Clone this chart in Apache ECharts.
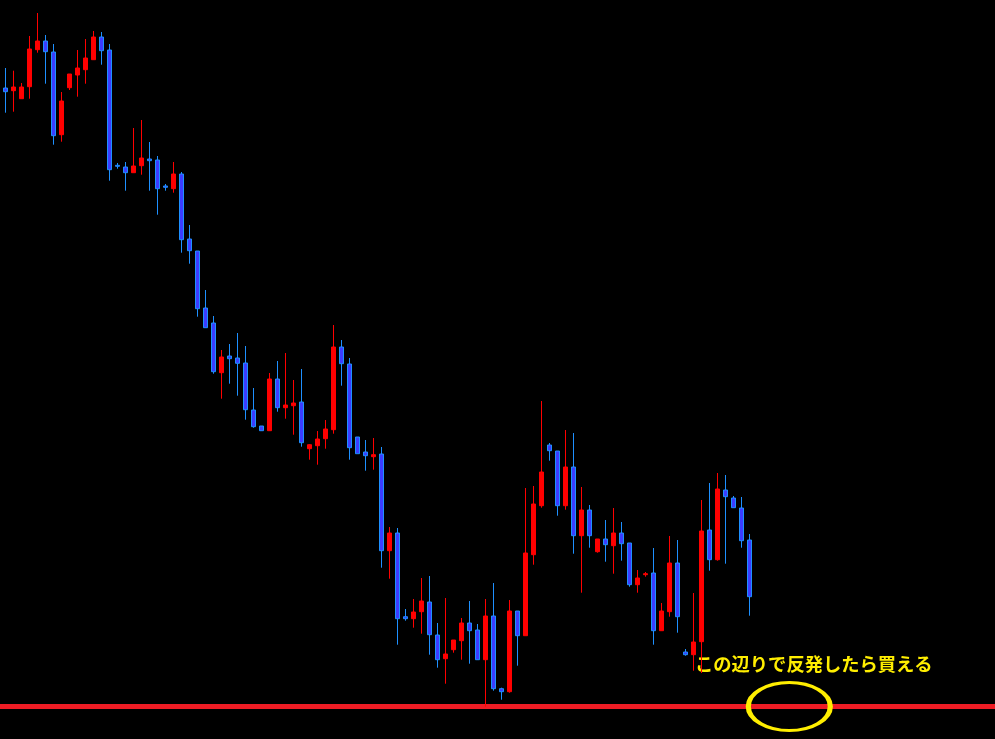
<!DOCTYPE html>
<html>
<head>
<meta charset="utf-8">
<script src="https://cdn.jsdelivr.net/npm/echarts@6/dist/echarts.min.js"></script>
<style>
html,body{margin:0;padding:0;background:#000;}
#chart{width:995px;height:739px;}
</style>
</head>
<body>
<div id="chart"></div>
<script>
// Candle data (price)
var opens = [116.120,116.093,116.013,116.133,116.503,116.590,116.480,115.653,116.123,116.250,
116.303,116.403,116.630,116.500,115.347,115.330,115.273,115.343,115.410,115.400,
115.140,115.113,115.260,114.610,114.490,113.920,113.770,113.273,113.440,113.420,
113.370,112.900,112.740,112.693,113.210,112.923,112.943,112.980,112.513,112.543,
112.613,112.703,113.530,113.360,112.630,112.480,112.433,112.460,111.493,111.670,
110.833,110.813,110.883,110.980,110.650,110.413,110.503,110.593,110.770,110.700,
110.403,110.840,110.113,110.083,110.890,110.643,111.453,111.943,112.550,112.490,
111.943,112.330,111.643,111.900,111.483,111.610,111.543,111.670,111.570,111.153,
111.253,111.270,110.693,110.883,111.370,110.480,110.453,110.583,111.700,111.403,
112.100,112.020,111.920,111.600];
var closes = [116.083,116.130,116.130,116.510,116.590,116.483,115.643,115.990,116.260,116.320,
116.420,116.630,116.493,115.303,115.337,115.273,115.340,115.420,115.393,115.113,
115.127,115.260,114.603,114.493,113.913,113.723,113.283,113.430,113.413,113.367,
112.903,112.733,112.693,113.210,112.923,112.950,112.970,112.573,112.553,112.610,
112.710,113.530,113.363,112.523,112.463,112.443,112.453,111.493,111.670,110.813,
110.813,110.880,110.990,110.653,110.403,110.460,110.600,110.770,110.693,110.403,
110.840,110.113,110.083,110.890,110.643,111.470,111.960,112.280,112.493,111.943,
112.330,111.643,111.900,111.643,111.610,111.553,111.670,111.563,111.153,111.220,
111.263,110.693,110.890,111.370,110.833,110.453,110.580,111.690,111.403,112.110,
112.033,111.923,111.593,111.033];
var lows = [115.873,115.883,116.013,116.013,116.473,116.163,115.553,115.583,116.100,116.033,
116.163,116.400,116.353,115.193,115.313,115.093,115.273,115.253,115.093,114.853,
115.093,115.073,114.473,114.363,113.833,113.723,113.263,113.013,113.163,113.043,
112.803,112.723,112.693,112.693,112.883,112.813,112.653,112.533,112.403,112.353,
112.513,112.663,113.143,112.403,112.463,112.293,112.303,111.323,111.213,110.553,
110.793,110.723,110.663,110.453,110.323,110.163,110.473,110.403,110.363,110.403,
109.933,110.093,110.003,110.073,110.343,110.643,111.353,111.923,112.393,111.843,
111.903,111.463,111.073,111.523,111.473,111.383,111.263,111.393,111.133,111.073,
111.233,110.553,110.693,110.833,110.673,110.443,110.293,110.270,111.293,111.393,
111.363,111.923,111.523,110.843];
var highs = [116.320,116.293,116.170,116.640,116.870,116.650,116.560,116.080,116.260,116.500,
116.610,116.690,116.680,116.560,115.370,115.380,115.720,115.800,115.580,115.440,
115.160,115.380,115.280,114.750,114.490,114.100,113.840,113.500,113.560,113.670,
113.540,113.120,112.740,113.270,113.390,113.470,113.200,113.310,112.560,112.690,
112.800,113.750,113.600,113.420,112.630,112.600,112.620,112.530,111.730,111.720,
110.910,111.010,111.220,111.240,110.770,111.020,110.600,110.820,110.990,110.760,
111.010,111.170,110.123,111.000,110.890,112.120,112.140,112.990,112.570,112.490,
112.700,112.670,112.130,111.950,111.610,111.800,111.920,111.780,111.570,111.300,
111.280,111.520,110.970,111.640,111.600,110.510,111.070,112.000,112.170,112.270,
112.250,112.040,112.030,111.660];
var supportLevel = 109.935;
var noteText = 'この辺りで反発したら買える';
var noteIndex = 98;

var totalSlots = 124;
var categories = [];
for (var i = 0; i < totalSlots; i++) categories.push(String(i + 1));

var candleData = opens.map(function (o, i) {
  return [o, closes[i], lows[i], highs[i]];
});

var yMin = 109.61, yMax = 117;

var chart = echarts.init(document.getElementById('chart'), null, {renderer: 'canvas'});
chart.setOption({
  backgroundColor: '#000000',
  animation: false,
  grid: [
    {left: 1.3, right: 1.7, top: 0, bottom: 0},
    {left: 0, right: 0, top: 0, bottom: 0}
  ],
  xAxis: [
    {type: 'category', data: categories, show: false, boundaryGap: true, gridIndex: 0},
    {type: 'value', min: 0, max: 1, show: false, gridIndex: 1}
  ],
  yAxis: [
    {type: 'value', min: yMin, max: yMax, show: false, splitLine: {show: false}, gridIndex: 0},
    {type: 'value', min: yMin, max: yMax, show: false, splitLine: {show: false}, gridIndex: 1}
  ],
  series: [
    {
      type: 'line',
      xAxisIndex: 1,
      yAxisIndex: 1,
      silent: true,
      symbol: 'none',
      data: [[0, supportLevel], [1, supportLevel]],
      lineStyle: {color: '#ee1c24', width: 5},
      z: 1
    },
    {
      type: 'candlestick',
      data: candleData,
      barWidth: 5,
      itemStyle: {
        color: '#ff0000',
        borderColor: '#ff0000',
        color0: '#3c3cff',
        borderColor0: '#1e90ff',
        borderWidth: 1
      },
      z: 3
    },
    {
      type: 'scatter',
      silent: true,
      data: [[noteIndex, supportLevel]],
      symbol: 'circle',
      symbolSize: [82, 48],
      itemStyle: {color: 'rgba(0,0,0,0)', borderColor: '#ffee00', borderWidth: 4, opacity: 1},
      z: 5
    }
  ],
  graphic: [{
    type: 'text',
    left: 695,
    top: 655,
    style: {
      text: noteText,
      fill: '#ffee00',
      font: 'bold 18.3px "Noto Sans CJK JP"'
    }
  }]
});
</script>
</body>
</html>
